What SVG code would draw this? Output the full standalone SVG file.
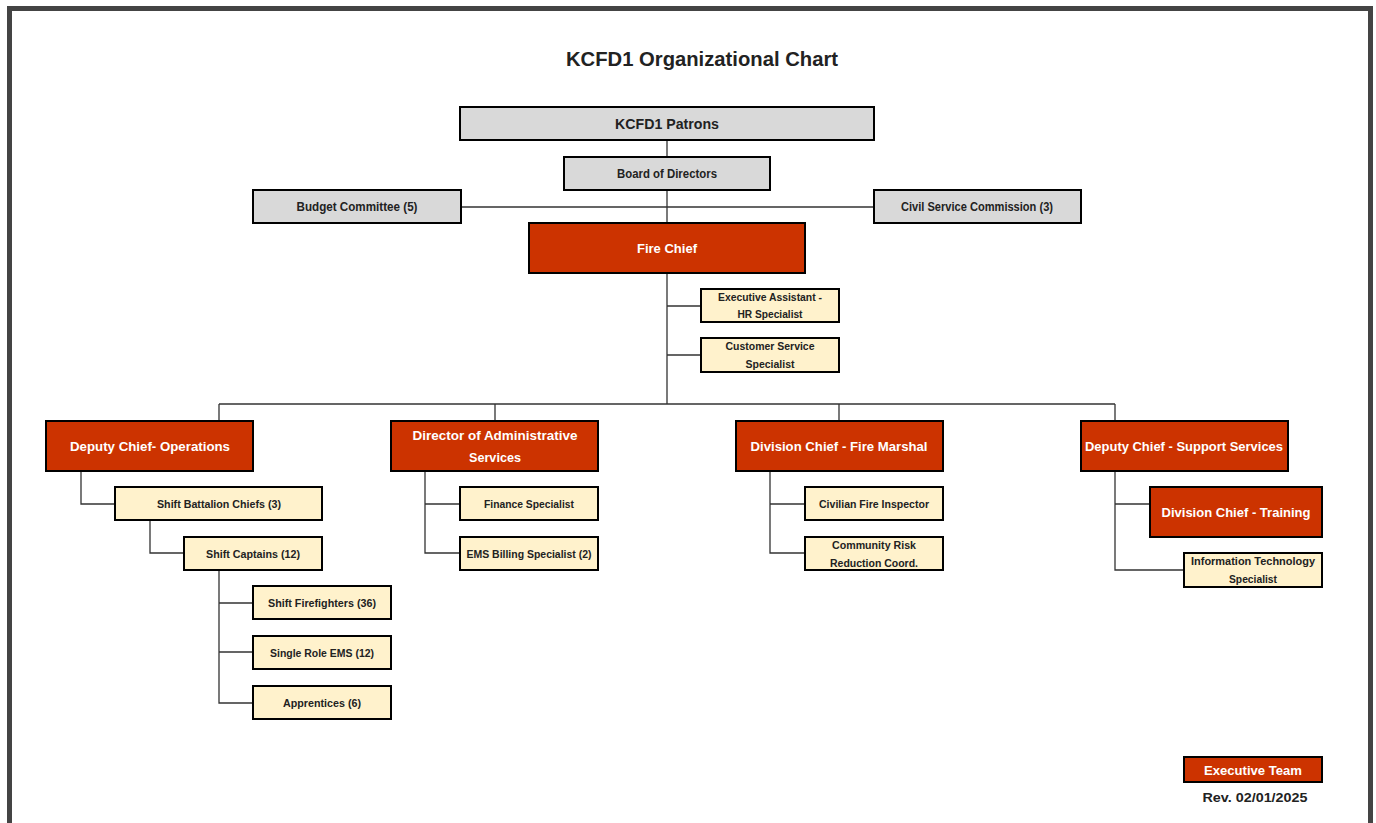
<svg xmlns="http://www.w3.org/2000/svg" width="1376" height="823" viewBox="0 0 1376 823">
<style>
.frame{fill:none;stroke:#444;stroke-width:5}
.g{fill:#d9d9d9;stroke:#000;stroke-width:2}
.r{fill:#cc3300;stroke:#000;stroke-width:2}
.y{fill:#fff2cc;stroke:#000;stroke-width:2}
text{font-family:"Liberation Sans",Arial,sans-serif;font-weight:bold;text-anchor:middle}
.d{fill:#222}
.w{fill:#fff}
.s{font-size:11.5px}
.m{font-size:12.5px}
.l{font-size:13.5px}
#connectors path{fill:none;stroke:#333;stroke-width:1.3}
</style>
<rect width="1376" height="823" fill="#fff"/>
<path class="frame" d="M9.5,830 V8.5 H1370.5 V830"/>
<text x="702" y="66" class="d" style="font-size:21px" textLength="272" lengthAdjust="spacingAndGlyphs">KCFD1 Organizational Chart</text>
<g id="connectors">
<path d="M667,140 V157 M667,190 V223 M461,207 H874 M667,273 V404 M667,306 H701 M667,355 H701"/>
<path d="M219,404 H1115 M219,404 V421 M495,404 V421 M839,404 V421 M1115,404 V421"/>
<path d="M81,471 V504 H115 M150,520 V553 H184 M219,570 V703 H253 M219,603 H253 M219,652 H253"/>
<path d="M425,471 V553 H460 M425,504 H460"/>
<path d="M770,471 V553 H805 M770,504 H805"/>
<path d="M1115,471 V570 H1184 M1115,504 H1150"/>
</g>
<g id="patrons"><rect class="g" x="460" y="107" width="414" height="33"/><text x="667" y="129" class="d" style="font-size:14.5px" textLength="104" lengthAdjust="spacingAndGlyphs">KCFD1 Patrons</text></g>
<g id="board"><rect class="g" x="564" y="157" width="206" height="33"/><text x="667" y="178" class="d m" textLength="100" lengthAdjust="spacingAndGlyphs">Board of Directors</text></g>
<g id="budget"><rect class="g" x="253" y="190" width="208" height="33"/><text x="357" y="211" class="d m" textLength="121" lengthAdjust="spacingAndGlyphs">Budget Committee (5)</text></g>
<g id="civil"><rect class="g" x="874" y="190" width="207" height="33"/><text x="977" y="211" class="d m" textLength="152" lengthAdjust="spacingAndGlyphs">Civil Service Commission (3)</text></g>
<g id="firechief"><rect class="r" x="529" y="223" width="276" height="50"/><text x="667" y="253" class="w l" textLength="60" lengthAdjust="spacingAndGlyphs">Fire Chief</text></g>
<g id="execasst"><rect class="y" x="701" y="289" width="138" height="33"/><text x="770" y="301" class="d s" textLength="104" lengthAdjust="spacingAndGlyphs">Executive Assistant -</text><text x="770" y="318" class="d s" textLength="65" lengthAdjust="spacingAndGlyphs">HR Specialist</text></g>
<g id="custserv"><rect class="y" x="701" y="338" width="138" height="34"/><text x="770" y="350" class="d s" textLength="89" lengthAdjust="spacingAndGlyphs">Customer Service</text><text x="770" y="368" class="d s" textLength="49" lengthAdjust="spacingAndGlyphs">Specialist</text></g>
<g id="depops"><rect class="r" x="46" y="421" width="207" height="50"/><text x="150" y="451" class="w l" textLength="160" lengthAdjust="spacingAndGlyphs">Deputy Chief- Operations</text></g>
<g id="diradmin"><rect class="r" x="391" y="421" width="207" height="50"/><text x="495" y="440" class="w l" textLength="165" lengthAdjust="spacingAndGlyphs">Director of Administrative</text><text x="495" y="462" class="w l" textLength="52" lengthAdjust="spacingAndGlyphs">Services</text></g>
<g id="firemarshal"><rect class="r" x="736" y="421" width="207" height="50"/><text x="839" y="451" class="w l" textLength="177" lengthAdjust="spacingAndGlyphs">Division Chief - Fire Marshal</text></g>
<g id="depsupport"><rect class="r" x="1081" y="421" width="207" height="50"/><text x="1184" y="451" class="w l" textLength="198" lengthAdjust="spacingAndGlyphs">Deputy Chief - Support Services</text></g>
<g id="battalion"><rect class="y" x="115" y="487" width="207" height="33"/><text x="219" y="508" class="d s" textLength="124" lengthAdjust="spacingAndGlyphs">Shift Battalion Chiefs (3)</text></g>
<g id="captains"><rect class="y" x="184" y="537" width="138" height="33"/><text x="253" y="558" class="d s" textLength="94" lengthAdjust="spacingAndGlyphs">Shift Captains (12)</text></g>
<g id="firefighters"><rect class="y" x="253" y="586" width="138" height="33"/><text x="322" y="607" class="d s" textLength="108" lengthAdjust="spacingAndGlyphs">Shift Firefighters (36)</text></g>
<g id="ems"><rect class="y" x="253" y="636" width="138" height="33"/><text x="322" y="657" class="d s" textLength="104" lengthAdjust="spacingAndGlyphs">Single Role EMS (12)</text></g>
<g id="apprentices"><rect class="y" x="253" y="686" width="138" height="33"/><text x="322" y="707" class="d s" textLength="78" lengthAdjust="spacingAndGlyphs">Apprentices (6)</text></g>
<g id="finance"><rect class="y" x="460" y="487" width="138" height="33"/><text x="529" y="508" class="d s" textLength="90" lengthAdjust="spacingAndGlyphs">Finance Specialist</text></g>
<g id="billing"><rect class="y" x="460" y="537" width="138" height="33"/><text x="529" y="558" class="d s" textLength="125" lengthAdjust="spacingAndGlyphs">EMS Billing Specialist (2)</text></g>
<g id="inspector"><rect class="y" x="805" y="487" width="138" height="33"/><text x="874" y="508" class="d s" textLength="110" lengthAdjust="spacingAndGlyphs">Civilian Fire Inspector</text></g>
<g id="crr"><rect class="y" x="805" y="537" width="138" height="33"/><text x="874" y="549" class="d s" textLength="84" lengthAdjust="spacingAndGlyphs">Community Risk</text><text x="874" y="567" class="d s" textLength="88" lengthAdjust="spacingAndGlyphs">Reduction Coord.</text></g>
<g id="training"><rect class="r" x="1150" y="487" width="172" height="50"/><text x="1236" y="517" class="w l" textLength="149" lengthAdjust="spacingAndGlyphs">Division Chief - Training</text></g>
<g id="it"><rect class="y" x="1184" y="553" width="138" height="34"/><text x="1253" y="565" class="d s" textLength="124" lengthAdjust="spacingAndGlyphs">Information Technology</text><text x="1253" y="583" class="d s" textLength="48" lengthAdjust="spacingAndGlyphs">Specialist</text></g>
<g id="legend"><rect class="r" x="1184" y="757" width="138" height="25"/><text x="1253" y="775" class="w l" textLength="98" lengthAdjust="spacingAndGlyphs">Executive Team</text></g>
<text x="1255" y="802" class="d m" textLength="105" lengthAdjust="spacingAndGlyphs">Rev. 02/01/2025</text>
</svg>
